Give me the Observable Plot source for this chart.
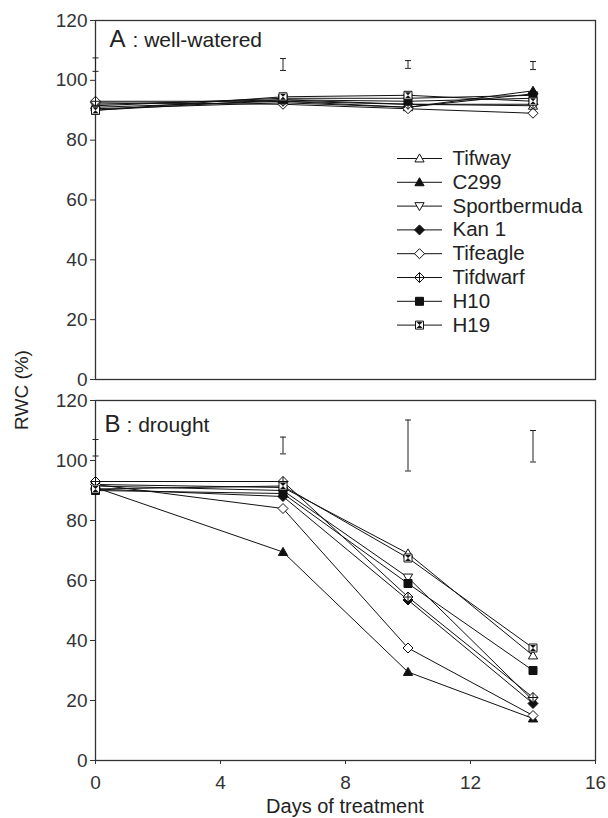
<!DOCTYPE html>
<html><head><meta charset="utf-8">
<script src="https://cdn.jsdelivr.net/npm/d3@7"></script>
<script src="https://cdn.jsdelivr.net/npm/@observablehq/plot@0.6"></script>
<style>
body{margin:0;background:#fff;}
#wrap{position:relative;width:608px;height:818px;font-family:"Liberation Sans",Arial,sans-serif;color:#222;}
#wrap svg{display:block;}
#ylab{position:absolute;left:22px;top:390px;transform:translate(-50%,-50%) rotate(-90deg);font-size:19px;white-space:nowrap;}
#xlab{position:absolute;left:345px;top:806px;transform:translate(-50%,-50%);font-size:20px;white-space:nowrap;}
</style></head><body><div id="wrap"><div id="ylab">RWC (%)</div><div id="xlab">Days of treatment</div></div>
<script>
// ---- data ----
const days = [0, 6, 10, 14];
const cultivars = ["Tifway", "C299", "Sportbermuda", "Kan 1", "Tifeagle", "Tifdwarf", "H10", "H19"];
// RWC (%) per cultivar (same order as cultivars), at each day
const wellWateredRWC = [
  [92, 93.5, 92, 91.5],
  [91, 93, 91, 96.5],
  [91.5, 94, 94, 95],
  [90.5, 92.5, 91, 95.5],
  [92.5, 92, 90.5, 89],
  [93, 93, 92, 92],
  [90, 93.5, 93, 94],
  [90, 94.5, 95, 93]
];
const droughtRWC = [
  [92, 91, 69, 35],
  [91, 69.5, 29.5, 14],
  [91.5, 90, 61, 20],
  [90.5, 88, 53.5, 19],
  [92, 84, 37.5, 15],
  [93, 93, 54.5, 21],
  [90, 89, 59, 30],
  [90.5, 91.5, 67.5, 37.5]
];
// error bars (LSD) low / high
const wellWateredErrLow = [103, 103.3, 104, 103.6];
const wellWateredErrHigh = [107.5, 107.3, 106.6, 106.3];
const droughtErrLow = [101.5, 102.2, 96.5, 99.5];
const droughtErrHigh = [107, 107.8, 113.5, 110];
const yTicks = [0, 20, 40, 60, 80, 100, 120];
const xTicks = [0, 4, 8, 12, 16];

// ---- symbols ----
const R = s => Math.sqrt(s / Math.PI);
const sym = {
  triUp: {draw(c, s) {const h = R(s) * 1.15; c.moveTo(0, -h); c.lineTo(h, h * 0.75); c.lineTo(-h, h * 0.75); c.closePath();}},
  triDown: {draw(c, s) {const h = R(s) * 1.15; c.moveTo(0, h); c.lineTo(h, -h * 0.75); c.lineTo(-h, -h * 0.75); c.closePath();}},
  diamond: {draw(c, s) {const h = R(s) * 1.25; c.moveTo(0, -h); c.lineTo(h, 0); c.lineTo(0, h); c.lineTo(-h, 0); c.closePath();}},
  diamondPlus: {draw(c, s) {const h = R(s) * 1.25; c.moveTo(0, -h); c.lineTo(h, 0); c.lineTo(0, h); c.lineTo(-h, 0); c.closePath();
    c.moveTo(0, -h); c.lineTo(0, h); c.moveTo(-h, 0); c.lineTo(h, 0);}},
  square: {draw(c, s) {const h = R(s); c.moveTo(-h, -h); c.lineTo(h, -h); c.lineTo(h, h); c.lineTo(-h, h); c.closePath();}},
  hourglass: {draw(c, s) {const h = R(s) * 0.75; c.moveTo(-h, -h); c.lineTo(h, -h); c.lineTo(-h, h); c.lineTo(h, h); c.closePath();}},
  hline: {draw(c, s) {const h = R(s); c.moveTo(-h, 0); c.lineTo(h, 0);}}
};
const styles = [
  {symbol: sym.triUp, fill: "white"},
  {symbol: sym.triUp, fill: "#111"},
  {symbol: sym.triDown, fill: "white"},
  {symbol: sym.diamond, fill: "#111"},
  {symbol: sym.diamond, fill: "white"},
  {symbol: sym.diamondPlus, fill: "white"},
  {symbol: sym.square, fill: "#111"},
  {symbol: sym.square, fill: "white", extra: sym.hourglass}
];
const RR = 4;
const FONT = '"Liberation Sans", Arial, sans-serif';

function markerMarks(data, pos) {
  const out = [];
  styles.forEach((st, i) => {
    const d = data ? data.filter(r => r.idx === i) : [cultivars[i]];
    const o = data ? {x: "day", y: "rwc"} : {frameAnchor: "top-left", dx: pos.dx, dy: pos.dy + i * pos.step};
    out.push(Plot.dot(d, {...o, symbol: st.symbol, r: RR, fill: st.fill, stroke: "#111", strokeWidth: 1}));
    if (st.extra) out.push(Plot.dot(d, {...o, symbol: st.extra, r: RR, fill: "#111", stroke: "none"}));
  });
  return out;
}

function panel(values, errLo, errHi, o) {
  const rows = cultivars.flatMap((c, i) => days.map((d, j) => ({cultivar: c, idx: i, day: d, rwc: values[i][j]})));
  const errs = days.map((d, j) => ({day: d, lo: errLo[j], hi: errHi[j]}));
  const marks = [
    Plot.frame({stroke: "#333", strokeWidth: 1.3}),
    Plot.ruleX(errs, {x: "day", y1: "lo", y2: "hi", stroke: "#222", strokeWidth: 1}),
    Plot.dot(errs, {x: "day", y: "lo", symbol: sym.hline, r: 3, fill: "none", stroke: "#222", strokeWidth: 1}),
    Plot.dot(errs, {x: "day", y: "hi", symbol: sym.hline, r: 3, fill: "none", stroke: "#222", strokeWidth: 1}),
    Plot.line(rows, {x: "day", y: "rwc", z: "cultivar", stroke: "#111", strokeWidth: 1}),
    ...markerMarks(rows),
    Plot.text([o.letter], {frameAnchor: "top-left", dx: o.ldx, dy: o.ldy, text: d => d, textAnchor: "start", lineAnchor: "middle", fontSize: 24, fill: "#222"}),
    Plot.text([o.title], {frameAnchor: "top-left", dx: o.tdx, dy: o.tdy, text: d => d, textAnchor: "start", lineAnchor: "middle", fontSize: 21, fill: "#222"})
  ];
  if (o.legend) {
    const pos = {dx: 324, dy: 138, step: 23.8};
    cultivars.forEach((c, i) => {
      marks.push(Plot.dot([c], {frameAnchor: "top-left", dx: pos.dx, dy: pos.dy + i * pos.step, symbol: sym.hline, r: 22.5, fill: "none", stroke: "#111", strokeWidth: 1}));
    });
    marks.push(...markerMarks(null, pos));
    cultivars.forEach((c, i) => {
      marks.push(Plot.text([c], {frameAnchor: "top-left", dx: 357, dy: pos.dy + i * pos.step, text: d => d, textAnchor: "start", lineAnchor: "middle", fontSize: 20.5, fill: "#222"}));
    });
  }
  return Plot.plot({
    width: 608, height: o.height,
    marginLeft: 95, marginRight: 13, marginTop: o.mt, marginBottom: o.mb,
    style: {fontFamily: FONT, fontSize: "19px", color: "#333", background: "white"},
    x: o.xaxis ? {domain: [0, 16], ticks: xTicks, tickSize: 4, tickPadding: 11, label: null, tickFormat: d => String(d)}
               : {domain: [0, 16], axis: null},
    y: {domain: [0, 120], ticks: yTicks, tickSize: 5, tickPadding: 3, label: null, tickFormat: d => String(d)},
    marks
  });
}

const wrap = document.getElementById("wrap");
const A = panel(wellWateredRWC, wellWateredErrLow, wellWateredErrHigh,
  {height: 390, mt: 20, mb: 11, xaxis: false, legend: true, letter: "A", title: ": well-watered", ldx: 14, ldy: 19, tdx: 37, tdy: 20});
const B = panel(droughtRWC, droughtErrLow, droughtErrHigh,
  {height: 428, mt: 10, mb: 58, xaxis: true, legend: false, letter: "B", title: ": drought", ldx: 9, ldy: 24, tdx: 31, tdy: 25});
wrap.insertBefore(B, wrap.firstChild);
wrap.insertBefore(A, B);
</script>
</body></html>
